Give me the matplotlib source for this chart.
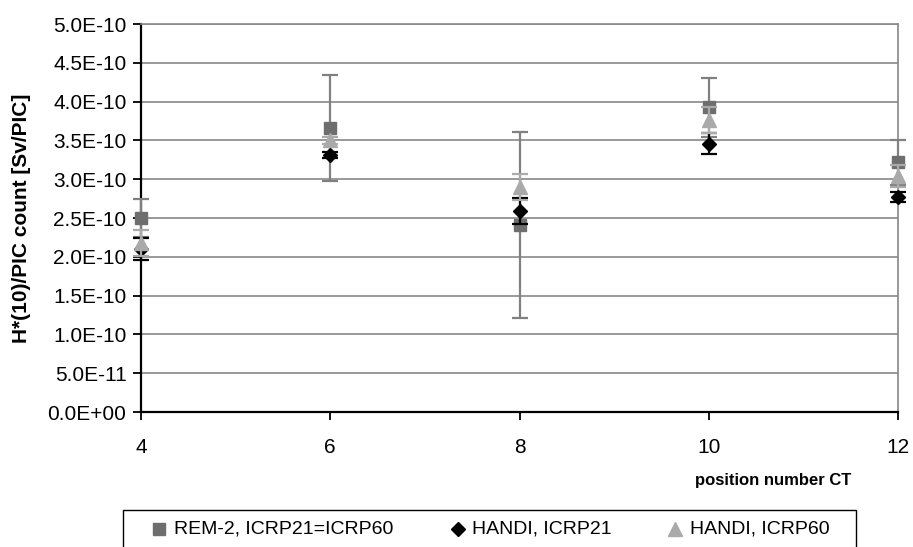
import matplotlib
matplotlib.use("Agg")
import matplotlib.pyplot as plt
from matplotlib.ticker import FixedLocator
from matplotlib.lines import Line2D
from matplotlib.patches import Rectangle

plt.rcParams['font.family'] = ['Liberation Sans', 'DejaVu Sans']

positions = [4, 6, 8, 10, 12]
rem2 = [2.50e-10, 3.66e-10, 2.41e-10, 3.93e-10, 3.22e-10]
rem2_err = [0.25e-10, 0.68e-10, 1.20e-10, 0.38e-10, 0.29e-10]
handi21 = [2.10e-10, 3.31e-10, 2.59e-10, 3.46e-10, 2.77e-10]
handi21_err = [0.14e-10, 0.04e-10, 0.17e-10, 0.14e-10, 0.07e-10]
handi60 = [2.18e-10, 3.50e-10, 2.90e-10, 3.76e-10, 3.04e-10]
handi60_err = [0.17e-10, 0.05e-10, 0.17e-10, 0.17e-10, 0.14e-10]
yticks = [i * 0.5e-10 for i in range(11)]
ytick_labels = ["0.0E+00", "5.0E-11", "1.0E-10", "1.5E-10", "2.0E-10", "2.5E-10",
                "3.0E-10", "3.5E-10", "4.0E-10", "4.5E-10", "5.0E-10"]
legend_labels = ["REM-2, ICRP21=ICRP60", "HANDI, ICRP21", "HANDI, ICRP60"]

W, H = 913, 547
fig = plt.figure(figsize=(W / 100, H / 100), dpi=100)
ax = fig.add_axes([141 / W, 1 - 412 / H, (898 - 141) / W, (412 - 24) / H])

c_sq = '#6e6e6e'
c_dm = '#000000'
c_tr = '#aaaaaa'
ms_sq, ms_dm, ms_tr = 8.6, 7.0, 9.5

def draw(y, err, marker, color, ecolor, ms, z):
    h = ax.errorbar(positions, y, yerr=err, fmt=marker, color=color, ecolor=ecolor,
                    markersize=ms, capsize=5.6, elinewidth=1.6, capthick=1.6,
                    clip_on=False, zorder=z)
    for art in list(h.lines[1]) + list(h.lines[2]):
        art.set_clip_on(False)
        art.set_zorder(z)
    return h

draw(rem2, rem2_err, 's', c_sq, '#808080', ms_sq, 3)
draw(handi21, handi21_err, 'D', c_dm, c_dm, ms_dm, 4)
draw(handi60, handi60_err, '^', c_tr, c_tr, ms_tr, 5)

ax.set_xlim(4, 12)
ax.set_ylim(0, 5.0e-10)
ax.set_xticks(positions)
ax.set_xticklabels([str(p) for p in positions], fontsize=15)
ax.yaxis.set_major_locator(FixedLocator(yticks))
ax.set_yticklabels(ytick_labels, fontsize=15)
ax.grid(axis='y', color='#888888', linewidth=1.2)
ax.set_axisbelow(True)
ax.tick_params(direction='out', length=5.5, width=1.3, color='black')
ax.tick_params(axis='x', pad=13)
ax.tick_params(axis='y', pad=5)
for s in ('left', 'bottom'):
    ax.spines[s].set_color('black')
    ax.spines[s].set_linewidth(1.6)
for s in ('right', 'top'):
    ax.spines[s].set_color('#888888')
    ax.spines[s].set_linewidth(1.2)

fig.text(22 / W, 1 - 218 / H, "H*(10)/PIC count [Sv/PIC]", fontsize=15, fontweight='bold',
         rotation=90, ha='center', va='center')
fig.text(851 / W, 1 - 480 / H, "position number CT", fontsize=12, fontweight='bold',
         ha='right', va='center')

# legend box (bottom edge lies below the figure, as in the reference)
fig.patches.append(Rectangle((123 / W, -0.02), (856 - 123) / W, 0.02 + (H - 509.5) / H,
                             transform=fig.transFigure, fill=False, edgecolor='black',
                             linewidth=1.0))
ly = 1 - 528.5 / H
for mx, tx, mk, col, ms, lab in [(158.5, 174, 's', c_sq, ms_sq, legend_labels[0]),
                                  (458, 471.5, 'D', c_dm, ms_dm, legend_labels[1]),
                                  (675, 689.5, '^', c_tr, ms_tr, legend_labels[2])]:
    fig.add_artist(Line2D([mx / W], [ly], marker=mk, color=col, markersize=ms,
                          linestyle='none', transform=fig.transFigure))
    fig.text(tx / W, ly, lab, fontsize=14, ha='left', va='center')

fig.savefig("out.png", dpi=100)
